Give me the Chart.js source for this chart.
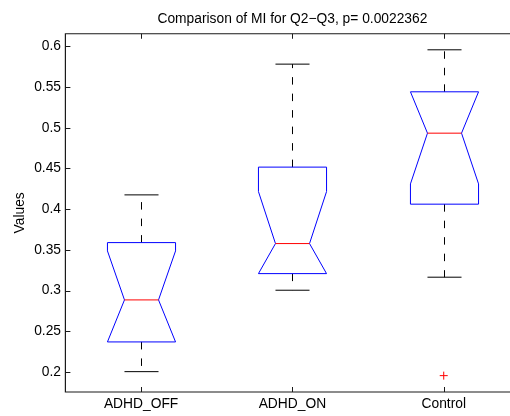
<!DOCTYPE html>
<html>
<head>
<meta charset="utf-8">
<script src="https://cdn.jsdelivr.net/npm/chart.js@4.4.1/dist/chart.umd.min.js"></script>
<style>
  html, body { margin: 0; padding: 0; overflow: hidden; background: #fff; }
  #wrap { position: relative; width: 510px; height: 416px; overflow: hidden; }
  canvas { position: absolute; left: 0; top: 0; }
</style>
</head>
<body>
<div id="wrap"><canvas id="boxChart" width="530" height="416"></canvas></div>
<script>
// values
const categories = ['ADHD_OFF', 'ADHD_ON', 'Control'];
const whiskerLow = [0.2004, 0.3004, 0.3164];
const q1 = [0.2369, 0.3208, 0.4061];
const median = [0.2885, 0.3577, 0.4933];
const q3 = [0.3589, 0.4516, 0.5441];
const whiskerHigh = [0.4175, 0.5781, 0.5957];
const notchLow = [0.2283, 0.2938, 0.4310];
const notchHigh = [0.3487, 0.4216, 0.5556];
const outlierGroup = [3];
const outlierValue = [0.1955];
const yTicks = [0.2, 0.25, 0.3, 0.35, 0.4, 0.45, 0.5, 0.55, 0.6];

const font = { family: "'Liberation Sans', Arial, Helvetica, sans-serif", size: 13.8 };
const boxWidth = 0.45;

// draws notched boxes, whiskers and the axes frame with inward ticks
const boxPlugin = {
  id: 'boxPlot',
  beforeDatasetsDraw(chart) {
    const { ctx, scales: { x, y } } = chart;
    ctx.save();
    ctx.lineWidth = 1;
    categories.forEach((c, i) => {
      const cx = Math.round(x.getPixelForValue(i + 1)) + 0.5;
      const half = x.getPixelForValue(i + 1 + boxWidth / 2) - x.getPixelForValue(i + 1);
      const inner = half / 2;
      const L = cx - half, R = cx + half;
      const yQ1 = y.getPixelForValue(q1[i]);
      const yQ3 = y.getPixelForValue(q3[i]);
      const yMed = y.getPixelForValue(median[i]);
      const yLo = y.getPixelForValue(Math.max(notchLow[i], q1[i]));
      const yHi = y.getPixelForValue(Math.min(notchHigh[i], q3[i]));
      const yWLo = y.getPixelForValue(whiskerLow[i]);
      const yWHi = y.getPixelForValue(whiskerHigh[i]);

      // whiskers
      ctx.strokeStyle = '#000';
      ctx.setLineDash([7.5, 9]);
      ctx.beginPath();
      ctx.moveTo(cx, yQ3); ctx.lineTo(cx, yWHi);
      ctx.moveTo(cx, yQ1); ctx.lineTo(cx, yWLo);
      ctx.stroke();
      ctx.setLineDash([]);

      // caps
      ctx.beginPath();
      ctx.moveTo(cx - inner, yWHi); ctx.lineTo(cx + inner, yWHi);
      ctx.moveTo(cx - inner, yWLo); ctx.lineTo(cx + inner, yWLo);
      ctx.stroke();

      // notched box
      ctx.strokeStyle = '#0000ff';
      ctx.beginPath();
      ctx.moveTo(L, yQ1);
      ctx.lineTo(L, yLo);
      ctx.lineTo(cx - inner, yMed);
      ctx.lineTo(L, yHi);
      ctx.lineTo(L, yQ3);
      ctx.lineTo(R, yQ3);
      ctx.lineTo(R, yHi);
      ctx.lineTo(cx + inner, yMed);
      ctx.lineTo(R, yLo);
      ctx.lineTo(R, yQ1);
      ctx.closePath();
      ctx.stroke();

      // median
      ctx.strokeStyle = '#ff0000';
      ctx.beginPath();
      ctx.moveTo(cx - inner, yMed); ctx.lineTo(cx + inner, yMed);
      ctx.stroke();
    });
    ctx.restore();
  },
  afterDraw(chart) {
    const { ctx, chartArea: a, scales: { x, y } } = chart;
    ctx.save();
    ctx.strokeStyle = '#1a1a1a';
    ctx.lineWidth = 1.2;
    // left, top and bottom edges (the right edge lies outside the window)
    ctx.beginPath();
    ctx.moveTo(a.right + 5, a.top); ctx.lineTo(a.left, a.top);
    ctx.lineTo(a.left, a.bottom); ctx.lineTo(a.right + 5, a.bottom);
    ctx.stroke();
    ctx.lineWidth = 1;
    ctx.beginPath();
    yTicks.forEach(v => {
      const py = Math.round(y.getPixelForValue(v)) + 0.5;
      ctx.moveTo(a.left, py); ctx.lineTo(a.left + 5, py);
    });
    categories.forEach((c, i) => {
      const px = Math.round(x.getPixelForValue(i + 1)) + 0.5;
      ctx.moveTo(px, a.bottom); ctx.lineTo(px, a.bottom - 5);
      ctx.moveTo(px, a.top); ctx.lineTo(px, a.top + 5);
    });
    ctx.stroke();
    ctx.restore();
  }
};

const ctx = document.getElementById('boxChart').getContext('2d');
const boxChart = new Chart(ctx, {
  type: 'scatter',
  data: {
    datasets: [{
      label: 'Outliers',
      data: outlierGroup.map((g, i) => ({ x: g, y: outlierValue[i] })),
      pointStyle: 'cross',
      pointRadius: 4,
      borderColor: '#ff0000',
      backgroundColor: '#ff0000',
      borderWidth: 1
    }]
  },
  options: {
    responsive: false,
    animation: false,
    events: [],
    layout: { padding: { left: 0, right: 10.6, top: 0, bottom: 0 } },
    plugins: {
      legend: { display: false },
      tooltip: { enabled: false },
      title: {
        display: true,
        text: 'Comparison of MI for Q2\u2212Q3, p= 0.0022362',
        color: '#000',
        font: { ...font, weight: 'normal' },
        fullSize: false,
        padding: { top: 11, bottom: 6.2 }
      }
    },
    scales: {
      x: {
        type: 'linear',
        min: 0.5,
        max: 3.5,
        grid: { display: false, drawTicks: false },
        border: { display: false },
        afterBuildTicks: scale => { scale.ticks = categories.map((c, i) => ({ value: i + 1 })); },
        afterFit: scale => { scale.height = 24; },
        ticks: {
          color: '#000',
          font: font,
          padding: 4,
          maxRotation: 0,
          callback: v => categories[v - 1]
        }
      },
      y: {
        min: 0.1754,
        max: 0.6154,
        grid: { display: false, drawTicks: false },
        border: { display: false },
        afterBuildTicks: scale => { scale.ticks = yTicks.map(v => ({ value: v })); },
        afterFit: scale => { scale.width = 65.4; },
        title: {
          display: true,
          text: 'Values',
          color: '#000',
          font: font,
          padding: { top: 11.7, bottom: 0 }
        },
        ticks: {
          color: '#000',
          font: font,
          padding: 4.4,
          callback: v => String(v)
        }
      }
    }
  },
  plugins: [boxPlugin]
});
</script>
</body>
</html>
